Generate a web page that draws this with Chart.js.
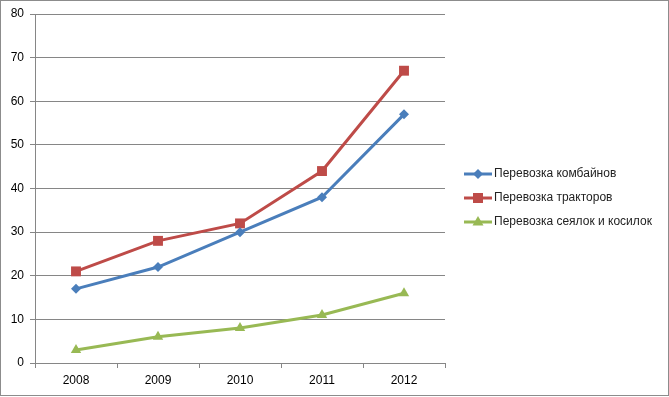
<!DOCTYPE html>
<html><head><meta charset="utf-8">
<script src="https://cdn.jsdelivr.net/npm/chart.js@4"></script>
<style>html,body{margin:0;padding:0;background:#fff}</style>
</head><body>
<canvas id="c" width="669" height="397"></canvas>
<script>
const categories = ['2008','2009','2010','2011','2012'];
const combines = [17,22,30,38,57];
const tractors = [21,28,32,44,67];
const seeders = [3,6,8,11,16];
const seriesNames = ['Перевозка комбайнов','Перевозка тракторов','Перевозка сеялок и косилок'];
const colors = ['#4a7ebb','#be4b48','#98b954'];
const markers = ['rectRot','rect','triangle'];
const markerRadius = [5, 7, 6];
const FONT = "'Liberation Sans', Arial, sans-serif";

const legendPlugin = {
  id: 'xlLegend',
  afterDraw(chart) {
    const ctx = chart.ctx;
    ctx.save();
    ctx.strokeStyle = '#8c8c8c';
    ctx.lineWidth = 1;
    ctx.strokeRect(0.5, 0.5, 668, 395);
    const ys = [174, 198, 222];
    chart.data.datasets.forEach((ds, i) => {
      const y = ys[i];
      ctx.strokeStyle = ds.borderColor;
      ctx.lineWidth = 3;
      ctx.beginPath(); ctx.moveTo(464, y); ctx.lineTo(492, y); ctx.stroke();
      ctx.fillStyle = ds.borderColor;
      const cx = 478;
      ctx.beginPath();
      if (i === 0) { ctx.moveTo(cx, y - 5); ctx.lineTo(cx + 5, y); ctx.lineTo(cx, y + 5); ctx.lineTo(cx - 5, y); }
      else if (i === 1) { ctx.rect(cx - 5, y - 5, 10, 10); }
      else { ctx.moveTo(cx, y - 6); ctx.lineTo(cx + 5.5, y + 3.5); ctx.lineTo(cx - 5.5, y + 3.5); }
      ctx.closePath(); ctx.fill();
      ctx.fillStyle = '#222';
      ctx.font = '12px ' + FONT;
      ctx.textBaseline = 'middle';
      ctx.fillText(ds.label, 494, y);
    });
    ctx.restore();
  }
};

const mk = (label, data, i) => ({
  label, data,
  borderColor: colors[i], backgroundColor: colors[i],
  borderWidth: 3, pointStyle: markers[i], pointRadius: markerRadius[i],
  pointBorderWidth: 0, tension: 0
});

new Chart(document.getElementById('c'), {
  type: 'line',
  data: {
    labels: categories,
    datasets: [mk(seriesNames[0], combines, 0), mk(seriesNames[1], tractors, 1), mk(seriesNames[2], seeders, 2)]
  },
  options: {
    responsive: false, animation: false,
    layout: { padding: { left: 0, top: 14, right: 224, bottom: 0 } },
    plugins: { legend: { display: false }, tooltip: { enabled: false } },
    scales: {
      x: {
        offset: true,
        grid: { offset: true, drawOnChartArea: false, drawTicks: true, tickLength: 5, color: '#868686' },
        border: { color: '#868686', width: 1 },
        ticks: { color: '#000', font: { family: FONT, size: 12 }, padding: 5 },
        afterFit(s) { s.height = 34; }
      },
      y: {
        min: 0, max: 80,
        grid: { color: '#868686', tickLength: 5, drawTicks: true },
        border: { color: '#868686', width: 1 },
        ticks: { stepSize: 10, color: '#000', font: { family: FONT, size: 12 }, padding: 6 },
        afterFit(s) { s.width = 35; }
      }
    }
  },
  plugins: [legendPlugin]
});
</script>
</body></html>
